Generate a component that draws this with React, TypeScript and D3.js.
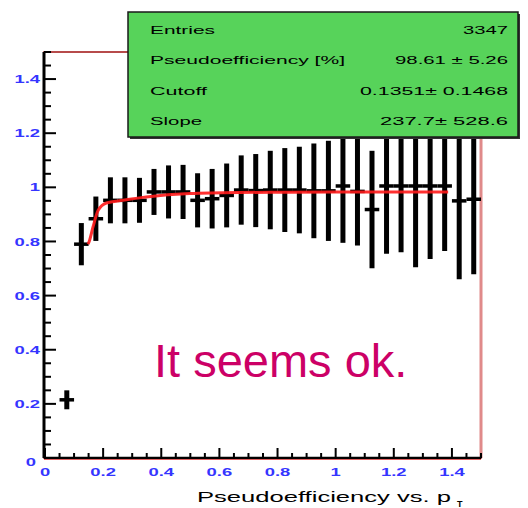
import * as d3 from "d3";

// bin centres (p_T) and measured pseudoefficiency
const binCenters = [0.075, 0.125, 0.175, 0.225, 0.275, 0.325, 0.375, 0.425, 0.475, 0.525, 0.575, 0.625, 0.675, 0.725, 0.775, 0.825, 0.875, 0.925, 0.975, 1.025, 1.075, 1.125, 1.175, 1.225, 1.275, 1.325, 1.375, 1.425, 1.475];
const effValues = [0.215, 0.79, 0.884, 0.952, 0.952, 0.952, 0.983, 0.983, 0.983, 0.952, 0.958, 0.97, 0.99, 0.988, 0.99, 0.99, 0.99, 0.987, 0.987, 1.005, 0.985, 0.918, 1.005, 1.005, 1.005, 1.005, 1.005, 0.95, 0.956];
const effErrors = [0.035, 0.078, 0.082, 0.085, 0.085, 0.083, 0.085, 0.098, 0.1, 0.1, 0.11, 0.118, 0.128, 0.135, 0.145, 0.155, 0.16, 0.175, 0.185, 0.21, 0.2, 0.217, 0.25, 0.245, 0.3, 0.27, 0.24, 0.29, 0.277];
const binHalfWidth = 0.025;

// fit curve
const fitX = [0.148, 0.152, 0.165, 0.183, 0.211, 0.268, 0.348, 0.497, 0.668, 0.84, 1.0, 1.2, 1.387];
const fitY = [0.79, 0.8, 0.853, 0.915, 0.942, 0.952, 0.964, 0.977, 0.981, 0.982, 0.983, 0.983, 0.983];

const xTickLabels = ["0", "0.2", "0.4", "0.6", "0.8", "1", "1.2", "1.4"];
const yTickLabels = ["0", "0.2", "0.4", "0.6", "0.8", "1", "1.2", "1.4"];

const statNames = ["Entries", "Pseudoefficiency [%]", "Cutoff", "Slope"];
const statValues = ["3347", "98.61 \u00b1 5.26", "0.1351\u00b1 0.1468", "237.7\u00b1 528.6"];

const W = 528;
const H = 508;
const FRAME = { left: 44, right: 481, top: 52, bottom: 458 };
const TICK_BLUE = "#3535ff";

export default function App() {
  const x = d3.scaleLinear().domain([0, 1.5]).range([FRAME.left + 1, FRAME.right]);
  const y = d3.scaleLinear().domain([0, 1.5]).range([FRAME.bottom, FRAME.top]);

  const minorTicks = d3.range(0, 1.5001, 0.05);

  const fitLine = d3
    .line<number>()
    .x((d) => x(d))
    .y((_, i) => y(fitY[i]))
    .curve(d3.curveMonotoneX);

  const nameWidths = [65, 195, 57, 52];
  const valueWidths = [45, 113, 148, 128];
  const statRows = [30, 60, 91, 121];

  return (
    <svg
      width={W}
      height={H}
      style={{ position: "fixed", left: 0, top: 0, background: "white" }}
      fontFamily="Liberation Sans, Arial, sans-serif"
    >
      <rect width={W} height={H} fill="white" />

      {/* frame */}
      <rect
        x={FRAME.left}
        y={FRAME.top}
        width={FRAME.right - FRAME.left}
        height={FRAME.bottom - FRAME.top}
        fill="none"
        stroke="#a01010"
        strokeWidth={1.5}
      />
      <line x1={FRAME.right} x2={FRAME.right} y1={FRAME.top} y2={FRAME.bottom} stroke="#e08a8a" strokeWidth={3} />

      {/* y axis ticks */}
      {minorTicks.map((t, i) => (
        <line
          key={"yt" + i}
          x1={FRAME.left}
          x2={FRAME.left + (i % 4 === 0 ? 12 : 7)}
          y1={y(t)}
          y2={y(t)}
          stroke="black"
          strokeWidth={2}
        />
      ))}
      {/* x axis ticks */}
      {minorTicks.map((t, i) => (
        <line
          key={"xt" + i}
          x1={x(t)}
          x2={x(t)}
          y1={FRAME.bottom}
          y2={FRAME.bottom - (i % 4 === 0 ? 10 : 5)}
          stroke="black"
          strokeWidth={2}
        />
      ))}
      <line x1={FRAME.left} x2={FRAME.left} y1={FRAME.top} y2={FRAME.bottom} stroke="black" strokeWidth={3} />
      <line x1={FRAME.left} x2={FRAME.right} y1={FRAME.bottom} y2={FRAME.bottom} stroke="black" strokeWidth={2.5} />
      <line x1={FRAME.left} x2={FRAME.right} y1={FRAME.bottom + 1.5} y2={FRAME.bottom + 1.5} stroke="#e06060" strokeWidth={1} />

      {/* y tick labels */}
      {yTickLabels.map((lab, i) => (
        <text
          key={"yl" + i}
          transform={`translate(${i === 0 ? 36 : 40},${y(i * 0.2) + (i === 0 ? 4 : 0)}) scale(1.6,1)`}
          textAnchor="end"
          dominantBaseline="central"
          fontSize={11.5}
          fontWeight="bold"
          fill={TICK_BLUE}
        >
          {lab}
        </text>
      ))}
      {/* x tick labels */}
      {xTickLabels.map((lab, i) => (
        <text
          key={"xl" + i}
          transform={`translate(${x(i * 0.2)},472) scale(1.6,1)`}
          textAnchor="middle"
          dominantBaseline="central"
          fontSize={11.5}
          fontWeight="bold"
          fill={TICK_BLUE}
        >
          {lab}
        </text>
      ))}

      {/* axis title */}
      <text x={197} y={502} fontSize={14.5} textLength={254} lengthAdjust="spacingAndGlyphs" fill="black">
        Pseudoefficiency vs. p
      </text>
      <text x={457} y={507} fontSize={9} fontWeight="bold" fill="black">
        T
      </text>

      {/* error bars */}
      {binCenters.map((c, i) => (
        <g key={"pt" + i}>
          <line
            x1={x(c)}
            x2={x(c)}
            y1={y(effValues[i] - effErrors[i])}
            y2={y(effValues[i] + effErrors[i])}
            stroke="black"
            strokeWidth={5}
          />
          <line
            x1={x(c - binHalfWidth)}
            x2={x(c + binHalfWidth)}
            y1={y(effValues[i])}
            y2={y(effValues[i])}
            stroke="black"
            strokeWidth={3.5}
          />
        </g>
      ))}

      {/* fit */}
      <path d={fitLine(fitX) ?? ""} fill="none" stroke="#ff1a1a" strokeWidth={3} strokeOpacity={0.9} />

      {/* stats box */}
      <rect x={130} y={14} width={390} height={125} fill="#333" />
      <rect x={128} y={12} width={390} height={125} fill="#57d35a" stroke="#1a1a1a" strokeWidth={1.5} />
      {statNames.map((n, i) => (
        <g key={"st" + i}>
          <text
            x={150}
            y={statRows[i] + 4}
            fontSize={11.5}
            textLength={nameWidths[i]}
            lengthAdjust="spacingAndGlyphs"
            fill="black"
          >
            {n}
          </text>
          <text
            x={508 - valueWidths[i]}
            y={statRows[i] + 4}
            fontSize={11.5}
            textLength={valueWidths[i]}
            lengthAdjust="spacingAndGlyphs"
            fill="black"
          >
            {statValues[i]}
          </text>
        </g>
      ))}

      {/* annotation */}
      <text x={154} y={377} fontSize={47} fill="#cc0066">
        It seems ok.
      </text>
    </svg>
  );
}
